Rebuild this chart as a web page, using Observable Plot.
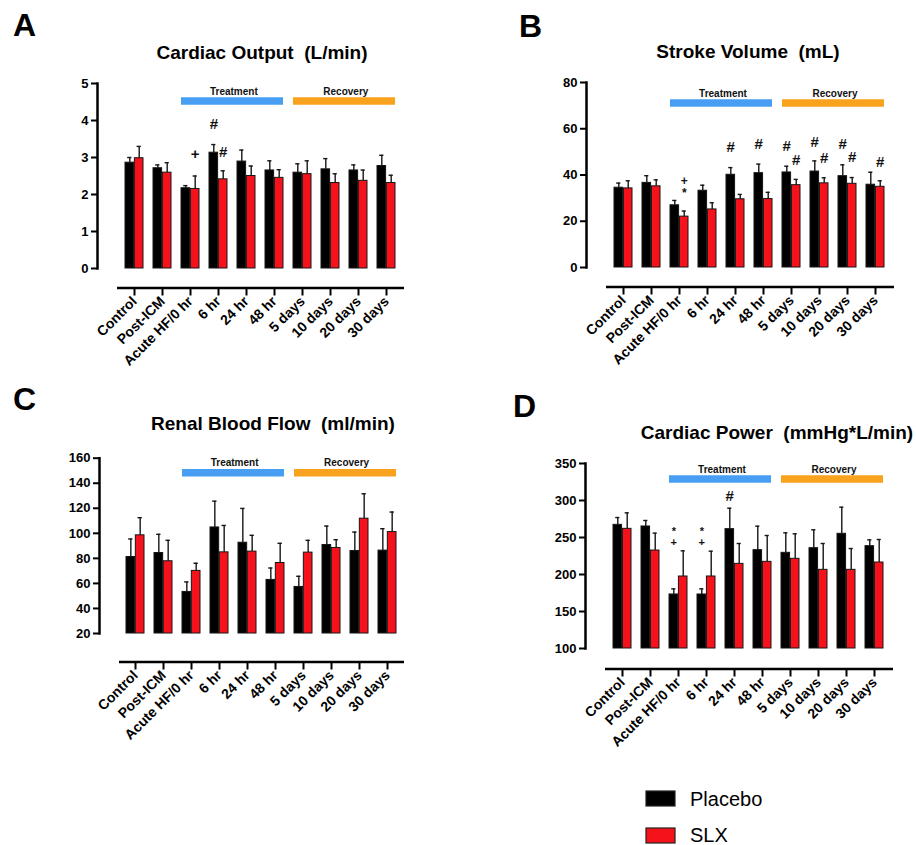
<!DOCTYPE html>
<html>
<head>
<meta charset="utf-8">
<script src="https://cdn.jsdelivr.net/npm/d3@7"></script>
<script src="https://cdn.jsdelivr.net/npm/@observablehq/plot@0.6"></script>
<style>
  html, body { margin: 0; padding: 0; background: #fff; }
  #root { position: relative; width: 916px; height: 845px; overflow: hidden; font-family: 'Liberation Sans', Arial, Helvetica, sans-serif; color: #000; }
  .abs { position: absolute; line-height: 1; white-space: pre; }
  .letter { font-weight: bold; }
  .title { font-weight: bold; transform: translateX(-50%); }
  .legend * { font-family: 'Liberation Sans', Arial, Helvetica, sans-serif !important; font-size: 20px !important; color: #000 !important; }
  .legend svg { margin-right: 15px !important; overflow: visible !important; }
  .legend svg rect { stroke: #222; stroke-width: 1.2; }
  .legend > div { margin: 0 !important; }
</style>
</head>
<body>
<div id="root"></div>
<script>
// ---------------- data ----------------
const categories = ["Control", "Post-ICM", "Acute HF/0 hr", "6 hr", "24 hr", "48 hr", "5 days", "10 days", "20 days", "30 days"];
const seriesNames = ["Placebo", "SLX"];

// Cardiac Output (L/min): mean and SEM
const coPlacebo    = [2.86, 2.71, 2.17, 3.13, 2.89, 2.65, 2.59, 2.68, 2.65, 2.77];
const coPlaceboSem = [0.14, 0.09, 0.07, 0.22, 0.31, 0.26, 0.24, 0.29, 0.15, 0.29];
const coSlx        = [2.98, 2.59, 2.15, 2.41, 2.50, 2.45, 2.55, 2.31, 2.37, 2.31];
const coSlxSem     = [0.32, 0.27, 0.35, 0.23, 0.27, 0.22, 0.36, 0.25, 0.29, 0.21];
const coTicks      = [0, 1, 2, 3, 4, 5];

// Stroke Volume (mL)
const svPlacebo    = [34.5, 36.6, 26.9, 33.2, 40.1, 40.8, 41.1, 41.5, 39.5, 35.8];
const svPlaceboSem = [2.0, 3.1, 2.1, 2.4, 3.1, 3.9, 2.7, 4.6, 4.9, 5.4];
const svSlx        = [34.2, 35.1, 22.0, 25.1, 29.5, 29.6, 35.6, 36.4, 36.2, 34.9];
const svSlxSem     = [3.3, 2.8, 2.4, 2.9, 2.1, 2.9, 2.5, 2.4, 2.7, 2.6];
const svTicks      = [0, 20, 40, 60, 80];

// Renal Blood Flow (ml/min)
const rbfPlacebo    = [81.1, 84.3, 53.2, 104.7, 92.5, 62.8, 57.2, 90.7, 85.9, 86.2];
const rbfPlaceboSem = [14.4, 14.9, 8.0, 21.0, 27.4, 9.5, 8.5, 15.1, 15.1, 17.5];
const rbfSlx        = [98.4, 77.7, 70.0, 84.8, 85.4, 76.3, 84.6, 88.3, 111.7, 101.0];
const rbfSlxSem     = [14.1, 16.7, 6.1, 21.5, 13.0, 15.7, 9.8, 6.6, 19.9, 16.0];
const rbfTicks      = [20, 40, 60, 80, 100, 120, 140, 160];

// Cardiac Power (mmHg*L/min)
const cpPlacebo    = [267.1, 264.9, 173.0, 173.0, 261.3, 232.9, 229.3, 235.6, 255.0, 238.3];
const cpPlaceboSem = [9.9, 8.1, 7.6, 7.6, 28.3, 32.4, 27.0, 24.8, 36.0, 8.5];
const cpSlx        = [261.7, 232.4, 197.3, 197.3, 214.4, 217.1, 221.2, 206.3, 206.3, 216.2];
const cpSlxSem     = [21.6, 23.5, 34.7, 34.2, 27.5, 35.6, 33.8, 35.6, 28.8, 31.1];
const cpTicks      = [100, 150, 200, 250, 300, 350];

// Study phases
const phaseNames = ["Treatment", "Recovery"];
const phaseStart = ["Acute HF/0 hr", "5 days"];
const phaseEnd   = ["48 hr", "30 days"];

// Significance marks (value where each symbol group sits)
const coNotes = [
  {cat: "Acute HF/0 hr", series: "SLX", sym: "+", y: 3.10},
  {cat: "6 hr", series: "Placebo", sym: "#", y: 3.90},
  {cat: "6 hr", series: "SLX", sym: "#", y: 3.15}
];
const svNotes = [
  {cat: "Acute HF/0 hr", series: "SLX", sym: "+\n*", y: 34.8},
  {cat: "24 hr", series: "Placebo", sym: "#", y: 52.0},
  {cat: "48 hr", series: "Placebo", sym: "#", y: 53.2},
  {cat: "5 days", series: "Placebo", sym: "#", y: 52.4},
  {cat: "5 days", series: "SLX", sym: "#", y: 46.3},
  {cat: "10 days", series: "Placebo", sym: "#", y: 54.3},
  {cat: "10 days", series: "SLX", sym: "#", y: 47.1},
  {cat: "20 days", series: "Placebo", sym: "#", y: 53.2},
  {cat: "20 days", series: "SLX", sym: "#", y: 47.8},
  {cat: "30 days", series: "SLX", sym: "#", y: 45.7}
];
const rbfNotes = [];
const cpNotes = [
  {cat: "Acute HF/0 hr", series: "Placebo", sym: "*\n+", y: 250.5},
  {cat: "6 hr", series: "Placebo", sym: "*\n+", y: 250.5},
  {cat: "24 hr", series: "Placebo", sym: "#", y: 306.3}
];

// ---------------- styles / layout ----------------
const FONT = "'Liberation Sans', Arial, Helvetica, sans-serif";
const COLORS = {Placebo: "#000000", SLX: "#f5121b"};
const PHASE_COLORS = {Treatment: "#479ef2", Recovery: "#f8a21d"};
const PAD_IN = 0.35, PAD_OUT = 0.815;

const panels = [
  {letter: "A", title: "Cardiac Output  (L/min)", placebo: coPlacebo, placeboSem: coPlaceboSem, slx: coSlx, slxSem: coSlxSem, ticks: coTicks, notes: coNotes,
   left: 0, top: 70, width: 460, mL: 97, mR: 37, mT: 13, plotH: 185, mB: 110, gap: 19.5, barDy: 17.5, textDy: 8, stackSize: 12,
   letterX: 13, letterBase: 36, titleX: 262, titleMid: 52.5},
  {letter: "B", title: "Stroke Volume  (mL)", placebo: svPlacebo, placeboSem: svPlaceboSem, slx: svSlx, slxSem: svSlxSem, ticks: svTicks, notes: svNotes,
   left: 456, top: 70, width: 460, mL: 130, mR: 3, mT: 12, plotH: 185, mB: 110, gap: 19.5, barDy: 20.5, textDy: 11, stackSize: 12,
   letterX: 519, letterBase: 37, titleX: 748, titleMid: 51},
  {letter: "C", title: "Renal Blood Flow  (ml/min)", placebo: rbfPlacebo, placeboSem: rbfPlaceboSem, slx: rbfSlx, slxSem: rbfSlxSem, ticks: rbfTicks, notes: rbfNotes,
   left: 0, top: 445, width: 460, mL: 99, mR: 37, mT: 12.7, plotH: 175.3, mB: 120, gap: 28.5, barDy: 14.5, textDy: 5, stackSize: 12,
   letterX: 13, letterBase: 410, titleX: 273, titleMid: 423},
  {letter: "D", title: "Cardiac Power  (mmHg*L/min)", placebo: cpPlacebo, placeboSem: cpPlaceboSem, slx: cpSlx, slxSem: cpSlxSem, ticks: cpTicks, notes: cpNotes,
   left: 456, top: 450, width: 460, mL: 129, mR: 4, mT: 13, plotH: 185, mB: 110, gap: 20.5, barDy: 15.5, textDy: 6, stackSize: 11,
   letterX: 513, letterBase: 417, titleX: 777, titleMid: 432}
];

const root = document.getElementById("root");

function placeText(text, x, baseline, size, cls) {
  const d = document.createElement("div");
  d.className = "abs " + cls;
  d.textContent = text;
  d.style.fontSize = size + "px";
  d.style.left = x + "px";
  d.style.top = (baseline - 0.8465 * size) + "px";
  root.append(d);
}

function buildPanel(p) {
  const rows = categories.flatMap((c, i) => [
    {cat: c, series: "Placebo", v: p.placebo[i], e: p.placeboSem[i]},
    {cat: c, series: "SLX", v: p.slx[i], e: p.slxSem[i]}
  ]);
  const yMin = p.ticks[0], yMax = p.ticks[p.ticks.length - 1];
  const range = p.width - p.mL - p.mR;
  const step = range / (categories.length - PAD_IN + 2 * PAD_OUT);
  const bw = step * (1 - PAD_IN);
  const off = bw / 4;
  const capW = 5;
  const capInset = (bw - capW) / 2;
  const marks = [];

  // study phase bands
  phaseNames.forEach((ph, j) => {
    const i0 = categories.indexOf(phaseStart[j]), i1 = categories.indexOf(phaseEnd[j]);
    const datum = [{name: ph, start: phaseStart[j], end: phaseEnd[j]}];
    marks.push(Plot.ruleY(datum, {y: () => yMax, x1: "start", x2: "end", dy: p.barDy, stroke: PHASE_COLORS[ph], strokeWidth: 7.5}));
    marks.push(Plot.text(datum, {x: "start", y: () => yMax, text: "name", dx: (i1 - i0) * step / 2, dy: p.textDy,
      fontSize: 10, fontWeight: "bold", fill: "#111", lineAnchor: "middle"}));
  });

  seriesNames.forEach((s, k) => {
    const d = rows.filter(r => r.series === s);
    const dx = k === 0 ? -off : off;
    marks.push(
      Plot.barY(d, {x: "cat", y1: () => yMin, y2: "v", fill: COLORS[s], stroke: "#161616", strokeWidth: 1,
        insetLeft: k === 0 ? 0 : bw / 2, insetRight: k === 0 ? bw / 2 : 0}),
      Plot.ruleX(d, {x: "cat", y1: "v", y2: r => r.v + r.e, dx, stroke: "#161616", strokeWidth: 1.4}),
      Plot.tickY(d, {x: "cat", y: r => r.v + r.e, dx, insetLeft: capInset, insetRight: capInset, stroke: "#161616", strokeWidth: 1.4})
    );
    const single = p.notes.filter(a => a.series === s && !a.sym.includes("\n"));
    const stacked = p.notes.filter(a => a.series === s && a.sym.includes("\n"));
    if (single.length) {
      marks.push(Plot.text(single, {x: "cat", y: "y", text: "sym", dx, fontSize: 15, fontWeight: "bold", fill: "#111", lineAnchor: "middle"}));
    }
    if (stacked.length) {
      marks.push(Plot.text(stacked, {x: "cat", y: "y", text: "sym", dx, fontSize: p.stackSize, fontWeight: "bold", fill: "#111",
        lineAnchor: "middle", lineHeight: 1.02}));
    }
  });

  marks.push(
    Plot.frame({anchor: "left", strokeWidth: 2.5, stroke: "#000"}),
    Plot.axisY({ticks: p.ticks, tickFormat: d => String(d), tickSize: 6, tickPadding: 3, strokeWidth: 2, fontSize: 13, fontWeight: "bold", label: null, fill: "#000"}),
    Plot.ruleY([yMin], {dy: p.gap, insetLeft: 20, insetRight: 19, strokeWidth: 2.5, stroke: "#000"}),
    Plot.axisX({dy: p.gap, tickSize: 8, tickPadding: 3, tickRotate: -45, strokeWidth: 2, fontSize: 14, fontWeight: "bold", label: null, fill: "#000"})
  );

  const chart = Plot.plot({
    width: p.width,
    height: p.mT + p.plotH + p.mB,
    marginLeft: p.mL, marginRight: p.mR, marginTop: p.mT, marginBottom: p.mB,
    x: {domain: categories, paddingInner: PAD_IN, paddingOuter: PAD_OUT},
    y: {domain: [yMin, yMax]},
    style: {fontFamily: FONT, background: "transparent", overflow: "visible", color: "#000"},
    marks
  });
  const wrap = document.createElement("div");
  wrap.className = "abs";
  wrap.style.left = p.left + "px";
  wrap.style.top = p.top + "px";
  wrap.append(chart);
  root.append(wrap);

  placeText(p.letter, p.letterX, p.letterBase, 32, "letter");
  placeText(p.title, p.titleX, p.titleMid + 0.358 * 19, 19, "title");
}

panels.forEach(buildPanel);

// legend
const legendTops = {Placebo: 782, SLX: 818.5};
seriesNames.forEach(s => {
  const leg = Plot.legend({
    color: {type: "ordinal", domain: [s], range: [COLORS[s]]},
    legend: "swatches", swatchWidth: 29, swatchHeight: 15
  });
  const w = document.createElement("div");
  w.className = "abs legend";
  w.style.left = "646px";
  w.style.top = legendTops[s] + "px";
  w.append(leg);
  root.append(w);
});
</script>
</body>
</html>
